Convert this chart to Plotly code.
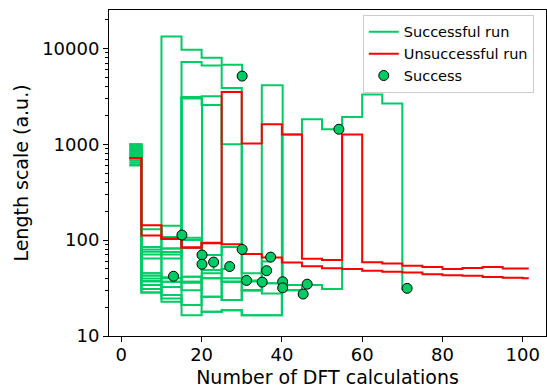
import plotly.graph_objects as go

# DFT-call counts at which the length scale is updated (every 5 calculations)
BATCH_X = [2, 5, 10, 15, 20, 25, 30, 35, 40, 45, 50, 55, 60, 65, 70,
           75, 80, 85, 90, 95, 100]

# Successful runs: length scale per batch, run ends at its success point
g01 = [1000, 45, 41]
g02 = [980, 85, 141]
g03 = [950, 37, 13300, 9690, 8000, 6760]
g04 = [920, 71, 75, 7200, 6640, 3850, 45, 48]
g05 = [900, 64.5, 64.5, 3100, 3160, 40, 38]
g06 = [870, 34, 32.5, 3000]
g07 = [850, 80, 82, 3050, 2570, 1000, 38, 60]
g08 = [820, 42.4, 36.8, 36.8, 40, 36.8, 30, 4120]
g09 = [800, 28.5, 26.7, 21, 25.7, 23.7, 30, 27.8, 1260, 1820, 1433]
g10 = [780, 31, 24.6, 16.5, 17.9, 18.6, 16.5, 16.5, 30, 34, 31, 1923, 3300, 2660, 31]
g11 = [760, 39.8, 40, 41.5]
g12 = [740, 75.6, 71, 106, 48.7]
g13 = [700, 37.4, 22.8, 36.8, 45, 50]
g14 = [680, 130, 108, 100, 70, 85]
g15 = [650, 34, 36.8, 41.5, 25.7, 36.8, 37]
g16 = [620, 28.5, 32.5, 30, 40, 23.7, 30, 35.4]
g17 = [600, 45, 75, 36, 17.9, 18.6, 16.5, 16.5, 30]
g18 = [1000, 85, 82, 83, 48.7, 36.8, 30, 35.4, 34]

# Success points (DFT calculations, length scale)
success_x = [13.0, 15.1, 30.1, 36.2, 31.2, 20.1, 37.2, 40.2, 54.2, 71.2,
             20.1, 23.0, 27.0, 30.1, 35.1, 40.2, 45.3, 46.3]
success_y = [42, 113, 5140, 48, 38, 70, 66.5, 36.8, 1433, 31.4,
             56, 59, 53, 80, 36.5, 31.8, 27.4, 34.7]

# Unsuccessful runs: full budget of 100 calculations
r01 = [720, 143, 104, 84, 94, 3500, 1020, 1617, 1260, 64, 62, 1260, 58.6,
       57, 54, 52.4, 50, 51.3, 52.4, 50.7, 50.7]
r02 = [720, 112, 103, 84, 93, 90.5, 71.5, 66, 58.5, 53.5, 50.8, 50, 48,
       46.7, 46, 44, 43, 42.4, 41.2, 40.5, 40]
RUN_END = 101.5

GREEN = "#00cc66"
RED = "#ff0000"
FONT = "DejaVu Sans"

green_runs = [g01, g02, g03, g04, g05, g06, g07, g08, g09, g10,
              g11, g12, g13, g14, g15, g16, g17, g18]
red_runs = [r01, r02]

fig = go.Figure()

for i, vals in enumerate(green_runs):
    xs = BATCH_X[:len(vals)] + [success_x[i]]
    ys = vals + [success_y[i]]
    fig.add_trace(go.Scatter(
        x=xs, y=ys, mode="lines", line=dict(color=GREEN, width=2, shape="hv"),
        name="Successful run", showlegend=(i == 0), hoverinfo="skip"))

for i, vals in enumerate(red_runs):
    xs = BATCH_X[:len(vals)] + [RUN_END]
    ys = vals + [vals[-1]]
    fig.add_trace(go.Scatter(
        x=xs, y=ys, mode="lines", line=dict(color=RED, width=2, shape="hv"),
        name="Unsuccessful run", showlegend=(i == 0), hoverinfo="skip"))

fig.add_trace(go.Scatter(
    x=success_x, y=success_y, mode="markers", name="Success",
    marker=dict(color=GREEN, size=10, line=dict(color="black", width=1))))

minor_vals = [m * 10 ** e for e in range(1, 5) for m in range(2, 10)]

fig.update_layout(
    width=547, height=388,
    margin=dict(l=109, r=1, t=10, b=52),
    plot_bgcolor="white", paper_bgcolor="white",
    font=dict(family=FONT, size=18, color="black"),
    legend=dict(x=0.972, y=0.985, xanchor="right", yanchor="top",
                bgcolor="white", bordercolor="#cccccc", borderwidth=1,
                tracegroupgap=0, font=dict(size=14.5, family=FONT)),
    xaxis=dict(range=[-3.07, 105.8], tickvals=[0, 20, 40, 60, 80, 100],
               ticks="outside", ticklen=5, tickwidth=1, tickcolor="black",
               ticklabelstandoff=-3,
               showline=True, linecolor="black", linewidth=1, mirror=True,
               showgrid=False, zeroline=False,
               title=dict(text="Number of DFT calculations",
                          font=dict(size=19), standoff=9)),
    yaxis=dict(type="log", range=[1, 4.4],
               tickvals=[10, 100, 1000, 10000],
               ticktext=["10", "100", "1000", "10000"],
               ticks="outside", ticklen=5, tickwidth=1, tickcolor="black",
               minor=dict(tickvals=minor_vals, ticks="outside", ticklen=3,
                          tickwidth=0.8, tickcolor="black", showgrid=False),
               showline=True, linecolor="black", linewidth=1, mirror=True,
               showgrid=False, zeroline=False,
               title=dict(text="Length scale (a.u.)",
                          font=dict(size=19), standoff=8)),
)

fig.write_html("out.html")
